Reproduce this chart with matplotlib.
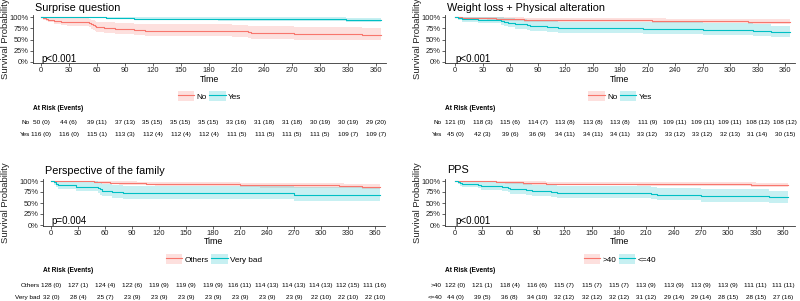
import matplotlib
matplotlib.use("Agg")
import matplotlib.pyplot as plt
import matplotlib.transforms as mtransforms
from matplotlib.patches import Patch
from matplotlib.lines import Line2D

plt.rcParams['font.family'] = ['Liberation Sans', 'DejaVu Sans']

# ---------------- data ----------------
time_ticks = [0, 30, 60, 90, 120, 150, 180, 210, 240, 270, 300, 330, 360]
end_time = 365

# Surprise question
sq_no_t = [0, 2, 5, 8, 14, 22, 28, 52, 54, 56, 58, 59, 68, 80, 100, 112, 205, 222, 226, 272, 345]
sq_no_s = [1, .98, .96, .94, .92, .90, .88, .86, .84, .82, .80, .78, .76, .74, .72, .70, .68, .66, .64, .62, .60]
sq_no_lo = [1, .94, .91, .88, .85, .82, .79, .77, .74, .72, .70, .67, .65, .63, .60, .58, .56, .54, .52, .50, .48]
sq_no_hi = [1, 1, 1, 1, .99, .98, .97, .95, .94, .93, .91, .90, .89, .87, .85, .84, .82, .80, .79, .77, .75]
sq_yes_t = [0, 45, 70, 85, 100, 190, 323, 328]
sq_yes_s = [1, .991, .983, .974, .966, .957, .948, .940]
sq_yes_lo = [1, .975, .96, .945, .93, .92, .905, .895]
sq_yes_hi = [1, 1, 1, 1, .998, .995, .99, .985]
sq_no_risk = ["50 (0)", "44 (6)", "39 (11)", "37 (13)", "35 (15)", "35 (15)", "35 (15)", "33 (16)", "31 (18)", "31 (18)", "30 (19)", "30 (19)", "29 (20)"]
sq_yes_risk = ["116 (0)", "116 (0)", "115 (1)", "113 (3)", "112 (4)", "112 (4)", "112 (4)", "111 (5)", "111 (5)", "111 (5)", "111 (5)", "109 (7)", "109 (7)"]

# Weight loss + Physical alteration
wl_no_t = [0, 3, 8, 20, 35, 45, 55, 75, 100, 200, 215, 230, 320]
wl_no_s = [1, .992, .983, .975, .967, .958, .95, .942, .934, .926, .917, .909, .90]
wl_no_lo = [1, .98, .96, .95, .94, .92, .91, .90, .89, .88, .87, .86, .85]
wl_no_hi = [1, 1, 1, 1, .995, .99, .99, .98, .98, .97, .97, .96, .955]
wl_yes_t = [0, 3, 8, 25, 50, 53, 58, 65, 78, 82, 100, 112, 205, 270, 325, 345]
wl_yes_s = [1, .978, .956, .933, .911, .889, .867, .844, .822, .80, .778, .756, .733, .711, .689, .667]
wl_yes_lo = [1, .94, .90, .86, .83, .80, .77, .74, .72, .69, .67, .64, .62, .59, .57, .55]
wl_yes_hi = [1, 1, 1, 1, .99, .98, .97, .96, .94, .93, .91, .89, .88, .86, .84, .81]
wl_no_risk = ["121 (0)", "118 (3)", "115 (6)", "114 (7)", "113 (8)", "113 (8)", "113 (8)", "111 (9)", "109 (11)", "109 (11)", "109 (11)", "108 (12)", "108 (12)"]
wl_yes_risk = ["45 (0)", "42 (3)", "39 (6)", "36 (9)", "34 (11)", "34 (11)", "34 (11)", "33 (12)", "33 (12)", "33 (12)", "32 (13)", "31 (14)", "30 (15)"]

# Perspective of the family
pf_oth_t = [0, 20, 48, 52, 56, 65, 75, 95, 105, 115, 200, 210, 225, 232, 320, 325, 345]
pf_oth_s = [1, .992, .984, .977, .969, .961, .953, .945, .938, .930, .922, .914, .906, .898, .891, .883, .875]
pf_oth_lo = [1, .98, .96, .95, .94, .93, .92, .91, .90, .89, .88, .87, .86, .85, .84, .83, .82]
pf_oth_hi = [1, 1, 1, 1, .995, .99, .99, .98, .98, .975, .97, .965, .96, .955, .95, .94, .935]
pf_vb_t = [0, 3, 6, 8, 28, 52, 54, 57, 68, 80, 270]
pf_vb_s = [1, .969, .938, .906, .875, .844, .813, .781, .75, .719, .688]
pf_vb_lo = [1, .91, .86, .81, .77, .73, .69, .66, .62, .59, .55]
pf_vb_hi = [1, 1, 1, 1, .99, .97, .95, .93, .91, .89, .86]
pf_oth_risk = ["128 (0)", "127 (1)", "124 (4)", "122 (6)", "119 (9)", "119 (9)", "119 (9)", "116 (11)", "114 (13)", "114 (13)", "114 (13)", "112 (15)", "111 (16)"]
pf_vb_risk = ["32 (0)", "28 (4)", "25 (7)", "23 (9)", "23 (9)", "23 (9)", "23 (9)", "23 (9)", "23 (9)", "23 (9)", "22 (10)", "22 (10)", "22 (10)"]

# PPS
pps_hi_t = [0, 10, 45, 50, 55, 75, 85, 100, 200, 205, 325, 330]
pps_hi_s = [1, .992, .984, .975, .967, .959, .951, .943, .934, .926, .918, .910]
pps_hi_lo = [1, .98, .96, .95, .94, .92, .91, .90, .89, .88, .87, .86]
pps_hi_hi = [1, 1, 1, 1, .995, .99, .99, .985, .98, .975, .97, .96]
pps_lo_t = [0, 3, 5, 8, 25, 28, 52, 58, 60, 78, 85, 105, 112, 215, 222, 270, 345]
pps_lo_s = [1, .977, .955, .932, .909, .886, .864, .841, .818, .795, .773, .75, .727, .705, .682, .659, .636]
pps_lo_lo = [1, .93, .89, .86, .83, .80, .77, .74, .71, .69, .66, .63, .61, .58, .56, .53, .50]
pps_lo_hi = [1, 1, 1, 1, .99, .98, .97, .96, .95, .93, .92, .90, .88, .86, .84, .82, .78]
pps_hi_risk = ["122 (0)", "121 (1)", "118 (4)", "116 (6)", "115 (7)", "115 (7)", "115 (7)", "113 (9)", "113 (9)", "113 (9)", "113 (9)", "111 (11)", "111 (11)"]
pps_lo_risk = ["44 (0)", "39 (5)", "36 (8)", "34 (10)", "32 (12)", "32 (12)", "32 (12)", "31 (12)", "29 (14)", "29 (14)", "28 (15)", "28 (15)", "27 (16)"]

RED = "#F8766D"
TEAL = "#00BFC4"

W, H = 800, 301
fig = plt.figure(figsize=(8, 3.01), dpi=100)


def fy(y):
    return 1 - y / H


def panel(lay, title, pval, groups):
    (ax_l, x0, x360, ax_r, y_top, y100, y0, y_bot, title_y, time_y,
     leg_y, head_y, row_ys, ylab_x) = lay
    ax = fig.add_axes([ax_l / W, fy(y_bot), (ax_r - ax_l) / W, (y_bot - y_top) / H])
    ppd = (x360 - x0) / 360.0
    ppu = (y0 - y100)
    ax.set_xlim((ax_l - x0) / ppd, (ax_r - x0) / ppd)
    ax.set_ylim(-(y_bot - y0) / ppu, 1 + (y100 - y_top) / ppu)
    for (lab, col, t, s, lo, hi, risk) in groups:
        tt = list(t) + [end_time]
        ax.fill_between(tt, list(lo) + [lo[-1]], list(hi) + [hi[-1]], step='post',
                        color=col, alpha=0.22, linewidth=0)
        ax.step(tt, list(s) + [s[-1]], where='post', color=col, linewidth=0.8)
    ax.set_xticks(time_ticks)
    ax.set_yticks([0, .25, .5, .75, 1])
    ax.set_yticklabels(["0%", "25%", "50%", "75%", "100%"])
    ax.tick_params(labelsize=5.4, length=2, width=0.5, pad=1, colors='#222222')
    for sp in ['top', 'right']:
        ax.spines[sp].set_visible(False)
    for sp in ['left', 'bottom']:
        ax.spines[sp].set_linewidth(0.6)
        ax.spines[sp].set_color('#333333')
    ax.set_facecolor('none')
    bt = mtransforms.blended_transform_factory(ax.transData, fig.transFigure)
    # title
    fig.text((ax_l + 2) / W, fy(title_y), title, fontsize=7.8, ha='left', va='center')
    # p-value
    ax.text(0, fy(y0 - 3.5), pval, transform=bt, fontsize=7, ha='left', va='center')
    # axis labels
    fig.text(ylab_x / W, fy((y_top + y_bot) / 2), "Survival Probability", rotation=90,
             fontsize=6.8, ha='center', va='center', color='#222222')
    fig.text((ax_l + ax_r) / 2 / W, fy(time_y), "Time", fontsize=6.4, ha='center', va='center')
    # legend
    handles = [(Patch(facecolor=c, alpha=0.22, edgecolor='none'),
                Line2D([], [], color=c, linewidth=0.8)) for (_, c, *_r) in groups]
    labels = [g[0] for g in groups]
    fig.legend(handles, labels, loc='center', bbox_to_anchor=((ax_l + ax_r) / 2 / W, fy(leg_y)),
               ncol=2, frameon=False, fontsize=5.9, handlelength=2.0, handleheight=1.6,
               columnspacing=0.3, handletextpad=0.3, borderpad=0)
    # risk table
    fig.text((ax_l) / W, fy(head_y), "At Risk (Events)", fontsize=4.7, fontweight='bold',
             ha='left', va='center')
    for (g, ry) in zip(groups, row_ys):
        fig.text((ax_l - 3) / W, fy(ry), g[0], fontsize=4.6, ha='right', va='center_baseline')
        for tk, txt in zip(time_ticks, g[6]):
            fig.text(tk, fy(ry), txt, transform=bt, fontsize=4.6, ha='center', va='center_baseline')
    return ax


panel((33, 41, 376, 386, 15, 17, 62, 63, 8, 80, 96, 108, (122, 134), 6),
      "Surprise question", "p<0.001",
      [("No", RED, sq_no_t, sq_no_s, sq_no_lo, sq_no_hi, sq_no_risk),
       ("Yes", TEAL, sq_yes_t, sq_yes_s, sq_yes_lo, sq_yes_hi, sq_yes_risk)])

panel((445, 455, 785, 795, 15, 17, 62, 63, 8, 80, 96, 108, (122, 134), 418),
      "Weight loss + Physical alteration", "p<0.001",
      [("No", RED, wl_no_t, wl_no_s, wl_no_lo, wl_no_hi, wl_no_risk),
       ("Yes", TEAL, wl_yes_t, wl_yes_s, wl_yes_lo, wl_yes_hi, wl_yes_risk)])

panel((43, 51, 375, 385, 179, 181, 225, 226, 171, 241.5, 259, 270, (285, 297), 6),
      "Perspective of the family", "p=0.004",
      [("Others", RED, pf_oth_t, pf_oth_s, pf_oth_lo, pf_oth_hi, pf_oth_risk),
       ("Very bad", TEAL, pf_vb_t, pf_vb_s, pf_vb_lo, pf_vb_hi, pf_vb_risk)])

panel((445, 455, 783, 795, 179, 181, 225, 226, 170, 241.5, 259, 270, (285, 297), 418),
      "PPS", "p<0.001",
      [(">40", RED, pps_hi_t, pps_hi_s, pps_hi_lo, pps_hi_hi, pps_hi_risk),
       ("<=40", TEAL, pps_lo_t, pps_lo_s, pps_lo_lo, pps_lo_hi, pps_lo_risk)])

fig.savefig("out.png", dpi=100)
